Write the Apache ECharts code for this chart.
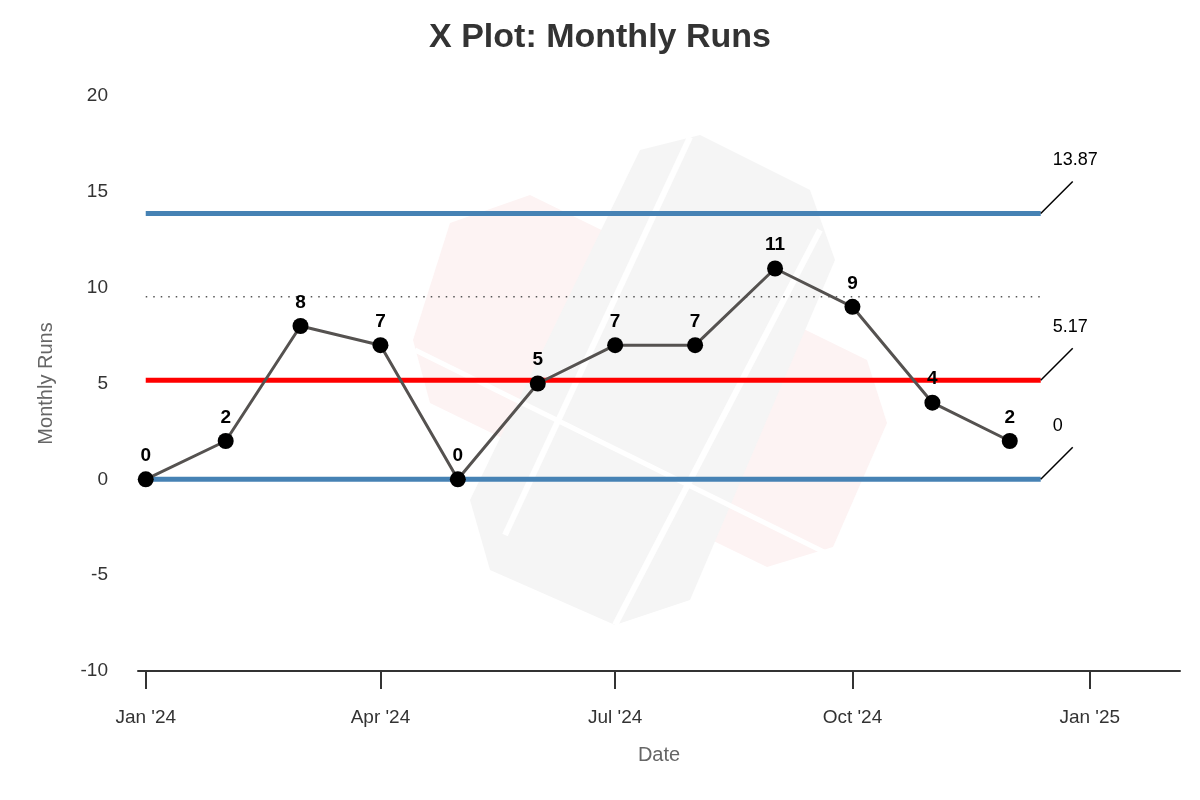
<!DOCTYPE html>
<html>
<head>
<meta charset="utf-8">
<title>X Plot: Monthly Runs</title>
<script src="https://cdn.jsdelivr.net/npm/echarts@6/dist/echarts.min.js"></script>
<style>
    html, body { margin: 0; padding: 0; background: #fff; }
    #chart { width: 1200px; height: 800px; }
</style>
</head>
<body>
<div id="chart"></div>
<script>
//数据
var months = ['2024-01-01', '2024-02-01', '2024-03-01', '2024-04-01', '2024-05-01', '2024-06-01',
    '2024-07-01', '2024-08-01', '2024-09-01', '2024-10-01', '2024-11-01', '2024-12-01'];
var runs = [0, 2, 8, 7, 0, 5, 7, 7, 11, 9, 4, 2];
var limitNames = ['UCL', 'Mean', 'LCL'];
var limitValues = [13.87, 5.17, 0];
var limitColors = ['#4682b4', '#ff0000', '#4682b4'];
var dottedValue = 9.52;
var lineStart = '2024-01-01';
var lineEnd = '2024-12-13';
var xTicks = ['2024-01-01', '2024-04-01', '2024-07-01', '2024-10-01', '2025-01-01'];
var xMin = '2023-12-29';
var xMax = '2025-02-05';
var monthNames = ['Jan', 'Feb', 'Mar', 'Apr', 'May', 'Jun', 'Jul', 'Aug', 'Sep', 'Oct', 'Nov', 'Dec'];

function toTime(s) {
    var p = s.split('-');
    return Date.UTC(+p[0], +p[1] - 1, +p[2]);
}

function fmtDate(v) {
    var d = new Date(v);
    return monthNames[d.getUTCMonth()] + " '" + String(d.getUTCFullYear()).slice(2);
}

var myChart = echarts.init(document.getElementById('chart'));

var series = [];

// 控制线
limitValues.forEach(function (v, i) {
    series.push({
        name: limitNames[i],
        type: 'line',
        data: [[toTime(lineStart), v], [toTime(lineEnd), v]],
        symbol: 'none',
        lineStyle: { color: limitColors[i], width: 5 },
        z: 3,
        silent: true
    });
});

// 虚线
series.push({
    name: 'dotted',
    type: 'line',
    data: [[toTime(lineStart), dottedValue], [toTime(lineEnd), dottedValue]],
    symbol: 'none',
    lineStyle: { color: '#555', width: 1.5, type: [1.5, 6] },
    z: 3,
    silent: true
});

// 右侧标注
series.push({
    type: 'custom',
    data: limitValues.map(function (v) { return [toTime(lineEnd), v]; }),
    renderItem: function (params, api) {
        var p = api.coord([api.value(0), api.value(1)]);
        var v = limitValues[params.dataIndex];
        return {
            type: 'group',
            children: [
                { type: 'line', shape: { x1: p[0], y1: p[1], x2: p[0] + 32, y2: p[1] - 32 },
                  style: { stroke: '#000', lineWidth: 1.5 } },
                { type: 'text', x: p[0] + 12, y: p[1] - 53,
                  style: { text: String(v), fill: '#000', font: '18px "Liberation Sans", Arial, sans-serif',
                           align: 'left', verticalAlign: 'middle' } }
            ]
        };
    },
    z: 4,
    silent: true
});

// 数据
series.push({
    name: 'Monthly Runs',
    type: 'line',
    data: months.map(function (m, i) { return [toTime(m), runs[i]]; }),
    symbol: 'circle',
    symbolSize: 16,
    itemStyle: { color: '#000' },
    lineStyle: { color: '#555250', width: 3 },
    label: {
        show: true,
        position: 'top',
        distance: 6,
        color: '#000',
        fontWeight: 'bold',
        fontSize: 19,
        fontFamily: 'Liberation Sans'
    },
    z: 5
});

var option = {
    backgroundColor: '#fff',
    animation: false,
    textStyle: { fontFamily: '"Liberation Sans", Arial, sans-serif' },
    title: {
        text: 'X Plot: Monthly Runs',
        left: 'center',
        top: 16,
        textStyle: { fontSize: 34, fontWeight: 'bold', color: '#333' }
    },
    // 背景水印
    graphic: [
        {
            type: 'polygon', z: -10, silent: true,
            shape: { points: [[413, 340], [450, 223], [530, 195], [867, 360], [887, 423], [833, 547], [767, 567], [430, 403]] },
            style: { fill: '#fdf3f3' }
        },
        {
            type: 'polygon', z: -9, silent: true,
            shape: { points: [[640, 150], [700, 135], [810, 190], [835, 260], [690, 600], [615, 625], [490, 570], [470, 500]] },
            style: { fill: '#f5f5f5' }
        },
        {
            type: 'line', z: -8, silent: true,
            shape: { x1: 690, y1: 137, x2: 505, y2: 535 },
            style: { stroke: '#fff', lineWidth: 6 }
        },
        {
            type: 'line', z: -8, silent: true,
            shape: { x1: 820, y1: 230, x2: 615, y2: 625 },
            style: { stroke: '#fff', lineWidth: 6 }
        },
        {
            type: 'line', z: -8, silent: true,
            shape: { x1: 415, y1: 350, x2: 830, y2: 555 },
            style: { stroke: '#fff', lineWidth: 5 }
        }
    ],
    grid: { left: 138, right: 20, top: 96, bottom: 129 },
    xAxis: {
        type: 'value',
        min: toTime(xMin),
        max: toTime(xMax),
        name: 'Date',
        nameLocation: 'middle',
        nameGap: 74,
        nameTextStyle: { fontSize: 20, color: '#666' },
        axisLine: { show: true, onZero: false, lineStyle: { color: '#333', width: 2 } },
        axisTick: { show: true, length: 18, lineStyle: { color: '#333', width: 2 },
                    customValues: xTicks.map(toTime) },
        axisLabel: { fontSize: 19, color: '#333', margin: 37,
                     customValues: xTicks.map(toTime), formatter: fmtDate },
        splitLine: { show: false }
    },
    yAxis: {
        type: 'value',
        min: -10,
        max: 20,
        interval: 5,
        name: 'Monthly Runs',
        nameLocation: 'middle',
        nameGap: 82,
        nameTextStyle: { fontSize: 20, color: '#666' },
        axisLine: { show: false },
        axisTick: { show: false },
        axisLabel: { fontSize: 19, color: '#333', margin: 30 },
        splitLine: { show: false }
    },
    series: series
};

myChart.setOption(option);
</script>
</body>
</html>
